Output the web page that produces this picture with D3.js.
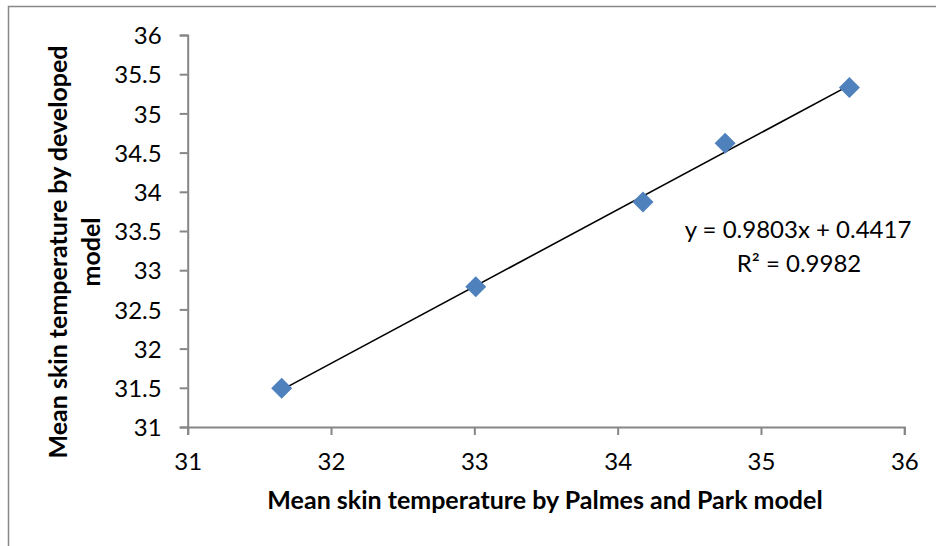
<!DOCTYPE html>
<html>
<head>
<meta charset="utf-8">
<script src="https://cdn.jsdelivr.net/npm/d3@7"></script>
<style>
  html, body { margin: 0; padding: 0; background: #fff; }
  svg { display: block; }
  text { font-family: Lato, "Open Sans", sans-serif; fill: #000; }
</style>
</head>
<body>
<svg id="chart" width="936" height="546"></svg>
<script>
// Mean skin temperature: Palmes & Park model (x) vs developed model (y)
const palmesPark = [31.656, 33.01, 34.177, 34.75, 35.617];
const developed  = [31.494, 32.79, 33.87, 34.62, 35.33];

// Linear trendline coefficients and fit quality
const slope = 0.9803;
const intercept = 0.4417;
const rSquared = 0.9982;

const xTicks = [31, 32, 33, 34, 35, 36];
const yTicks = [31, 31.5, 32, 32.5, 33, 33.5, 34, 34.5, 35, 35.5, 36];

const xTitle = "Mean skin temperature by Palmes and Park model";
const yTitleLines = ["Mean skin temperature by developed", "model"];

const svg = d3.select("#chart");

// chart frame (right and bottom edges fall outside the view)
svg.append("rect")
  .attr("x", 8.5).attr("y", 6.5)
  .attr("width", 940).attr("height", 550)
  .attr("fill", "#fff").attr("stroke", "#888").attr("stroke-width", 1.5);

const x = d3.scaleLinear().domain([31, 36]).range([187.7, 904.3]);
const y = d3.scaleLinear().domain([31, 36]).range([427, 35]);

const axisColor = "#868686";
const fmt = d => String(d);
const tickFont = 24;

// y axis
const gy = svg.append("g").attr("transform", `translate(${x(31)},0)`)
  .call(d3.axisLeft(y).tickValues(yTicks).tickFormat(fmt).tickSize(8).tickPadding(18));
gy.select(".domain").attr("stroke", axisColor).attr("stroke-width", 2);
gy.selectAll(".tick line").attr("stroke", axisColor).attr("stroke-width", 2);
gy.selectAll(".tick text").attr("font-size", tickFont).attr("fill", "#000")
  .attr("font-family", "Lato, sans-serif").attr("dy", "0.36em");

// x axis
const gx = svg.append("g").attr("transform", `translate(0,${y(31)})`)
  .call(d3.axisBottom(x).tickValues(xTicks).tickFormat(fmt).tickSize(8).tickPadding(18));
gx.select(".domain").attr("stroke", axisColor).attr("stroke-width", 2);
gx.selectAll(".tick line").attr("stroke", axisColor).attr("stroke-width", 2);
gx.selectAll(".tick text").attr("font-size", tickFont).attr("fill", "#000")
  .attr("font-family", "Lato, sans-serif");

// linear trendline over the data range
const xMin = d3.min(palmesPark), xMax = d3.max(palmesPark);
svg.append("line")
  .attr("x1", x(xMin)).attr("y1", y(slope * xMin + intercept))
  .attr("x2", x(xMax)).attr("y2", y(slope * xMax + intercept))
  .attr("stroke", "#000").attr("stroke-width", 1.6);

// diamond markers
const pts = palmesPark.map((v, i) => [v, developed[i]]);
const r = 10.5;
svg.append("g").selectAll("path").data(pts).join("path")
  .attr("d", d => {
    const cx = x(d[0]), cy = y(d[1]);
    return `M${cx},${cy - r}L${cx + r},${cy}L${cx},${cy + r}L${cx - r},${cy}Z`;
  })
  .attr("fill", "#4F81BD");

// trendline equation
const eq = svg.append("g").attr("font-size", 24).attr("text-anchor", "middle");
eq.append("text").attr("x", 798).attr("y", 238)
  .text(`y = ${slope}x + ${intercept}`);
eq.append("text").attr("x", 799).attr("y", 272)
  .text(`R² = ${rSquared}`);

// axis titles
svg.append("text")
  .attr("x", 545).attr("y", 509)
  .attr("text-anchor", "middle").attr("font-size", 25).attr("font-weight", "bold")
  .text(xTitle);

const yt = svg.append("text")
  .attr("transform", "translate(0,252) rotate(-90)")
  .attr("text-anchor", "middle").attr("font-size", 25).attr("font-weight", "bold");
yTitleLines.forEach((line, i) => {
  yt.append("tspan").attr("x", 0).attr("y", 67 + i * 33).text(line);
});
</script>
</body>
</html>
